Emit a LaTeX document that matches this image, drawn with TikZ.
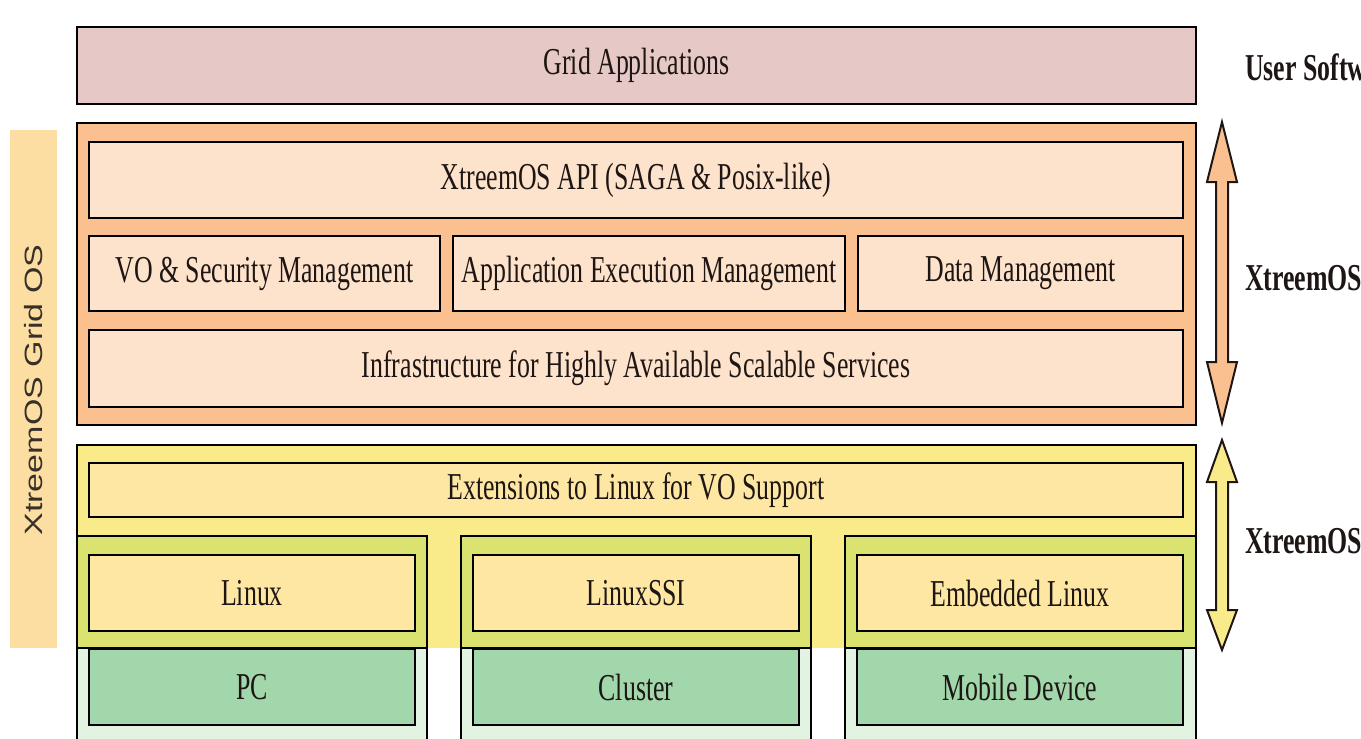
\documentclass[tikz,border=0pt]{standalone}
\usepackage{fontspec}
\usepackage{graphicx}
\setmainfont{Liberation Serif}
\newfontfamily\labelsans{Liberation Sans}

\definecolor{gridapp}{RGB}{230,200,198}
\definecolor{orangeout}{RGB}{250,192,143}
\definecolor{orangein}{RGB}{253,226,204}
\definecolor{yellowout}{RGB}{249,234,138}
\definecolor{yellowin}{RGB}{253,231,162}
\definecolor{olive}{RGB}{218,226,112}
\definecolor{lightgreen}{RGB}{226,243,226}
\definecolor{hwgreen}{RGB}{162,215,172}
\definecolor{leftbar}{RGB}{252,222,162}
\definecolor{textc}{RGB}{30,22,20}
\definecolor{sidetext}{RGB}{55,48,40}

\newcommand\sq[1]{\scalebox{0.68}[1]{#1}}
\newcommand\layerbox[7][]{%
  \node[#1, minimum width={(#5-#3)*0.75pt}, minimum height={(#6-#4)*0.75pt}]
    (#2) at ({(#3+#5)/2},{(#4+#6)/2}) {#7};}

\tikzset{
  layer/.style={draw=black, line width=2pt, inner sep=0pt, outer sep=0pt,
    text=textc, font=\fontsize{28.5}{30}\selectfont},
  plain/.style={inner sep=0pt, outer sep=0pt},
  sidelabel/.style={inner sep=0pt, outer sep=0pt, anchor=base west, text=textc,
    font=\fontsize{28.5}{30}\selectfont\bfseries},
  rangearrow/.style={draw=textc, line width=1.5pt, line join=miter},
}

\begin{document}
\begin{tikzpicture}[x=0.75pt,y=-0.75pt]
\useasboundingbox (0,0) rectangle (1361,739);
\clip (0,0) rectangle (1361,739);

% left bar
\layerbox[plain, fill=leftbar]{gridosbar}{10}{130}{57}{648}{}
\node[plain, rotate=90, text=sidetext, font=\labelsans\fontsize{18.75}{20}\selectfont]
  (gridoslabel) at (34,390) {\scalebox{1.36}[1]{XtreemOS Grid OS}};

% top layer
\layerbox[layer, fill=gridapp]{gridapp}{77}{27}{1196}{104}{\sq{Grid Applications}}

% XtreemOS-G layer
\layerbox[layer, fill=orangeout]{xg}{77}{123}{1196}{425}{}
\layerbox[layer, fill=orangein]{api}{89}{142}{1183}{218}{\sq{XtreemOS API (SAGA \& Posix-like)}}
\layerbox[layer, fill=orangein]{vo}{89}{236}{440}{311}{\sq{VO \& Security Management}}
\layerbox[layer, fill=orangein]{aem}{453}{236}{845}{311}{\sq{Application Execution Management}}
\layerbox[layer, fill=orangein]{dm}{858}{236}{1183}{311}{\sq{Data Management}}
\layerbox[layer, fill=orangein]{infra}{89}{330}{1183}{407}{\sq{Infrastructure for Highly Available Scalable Services}}

% XtreemOS-F layer
\layerbox[plain, fill=yellowout]{xf}{77}{445}{1196}{648}{}
\draw[line width=2pt] (77,537) -- (77,445) -- (1196,445) -- (1196,537);
\layerbox[layer, fill=yellowin]{ext}{89}{463}{1183}{517}{\sq{Extensions to Linux for VO Support}}

% columns
\layerbox[layer, fill=olive]{colAup}{77}{536}{427}{648}{}
\layerbox[layer, fill=lightgreen]{colAlo}{77}{648}{427}{780}{}
\layerbox[layer, fill=olive]{colBup}{461}{536}{811}{648}{}
\layerbox[layer, fill=lightgreen]{colBlo}{461}{648}{811}{780}{}
\layerbox[layer, fill=olive]{colCup}{845}{536}{1196}{648}{}
\layerbox[layer, fill=lightgreen]{colClo}{845}{648}{1196}{780}{}

\layerbox[layer, fill=yellowin]{linux}{89}{555}{415}{631}{\sq{Linux}}
\layerbox[layer, fill=hwgreen]{pc}{89}{649}{415}{725}{\sq{PC}}
\layerbox[layer, fill=yellowin]{linuxssi}{473}{555}{799}{631}{\sq{LinuxSSI}}
\layerbox[layer, fill=hwgreen]{cluster}{473}{649}{799}{725}{\sq{Cluster}}
\layerbox[layer, fill=yellowin]{emb}{857}{555}{1183}{631}{\sq{Embedded Linux}}
\layerbox[layer, fill=hwgreen]{mobile}{857}{649}{1183}{725}{\sq{Mobile Device}}

% range arrows
\draw[rangearrow, fill=orangeout]
  (1222,122) -- (1237,182) -- (1228,182) -- (1228,362) -- (1237,362) -- (1222,423)
  -- (1207,362) -- (1216,362) -- (1216,182) -- (1207,182) -- cycle;
\draw[rangearrow, fill=yellowout]
  (1222,440) -- (1237,482) -- (1228,482) -- (1228,610) -- (1237,610) -- (1222,650)
  -- (1207,610) -- (1216,610) -- (1216,482) -- (1207,482) -- cycle;

% side labels
\node[sidelabel] (userlabel) at (1245,80) {\sq{User Softw}};
\node[sidelabel] (glabel) at (1245,290) {\sq{XtreemOS}};
\node[sidelabel] (flabel) at (1245,553) {\sq{XtreemOS}};
\end{tikzpicture}
\end{document}
